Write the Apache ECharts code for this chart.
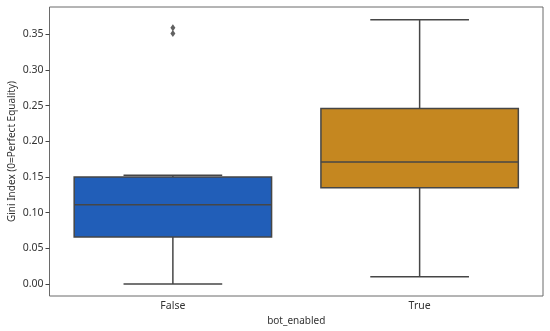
<!DOCTYPE html>
<html>
<head>
<meta charset="utf-8">
<script src="https://cdn.jsdelivr.net/npm/echarts@6/dist/echarts.min.js"></script>
<style>
html,body{margin:0;padding:0;background:#fff}
#chart{width:550px;height:331px}
</style>
</head>
<body>
<div id="chart"></div>
<script>
// categories and box stats: [min, q1, median, q3, max]
const categories = ["False", "True"];
const boxStats = [
  [0.000, 0.066, 0.111, 0.150, 0.1525],
  [0.010, 0.135, 0.171, 0.246, 0.370]
];
const outliers = [[0, 0.351], [0, 0.359]];
const yTicks = [0, 0.05, 0.10, 0.15, 0.20, 0.25, 0.30, 0.35];
const boxColors = ["#215EB8", "#C58720"];

const chart = echarts.init(document.getElementById("chart"));
const edge = "#464646";
const font = "'Noto Sans', sans-serif";

function renderBox(params, api){
  const i = api.value(0);
  const band = api.size([1, 0])[0];
  const x = api.coord([i, 0])[0];
  const y = k => api.coord([i, api.value(k)])[1];
  const half = band * 0.4, cap = band * 0.2;
  const ln = (x1, y1, x2, y2) => ({type: "line", shape: {x1, y1, x2, y2},
    style: {stroke: edge, lineWidth: 1.5}});
  return {type: "group", children: [
    ln(x, y(1), x, y(2)),
    ln(x, y(4), x, y(5)),
    ln(x - cap, y(1), x + cap, y(1)),
    ln(x - cap, y(5), x + cap, y(5)),
    {type: "rect", shape: {x: x - half, y: y(4), width: half * 2, height: y(2) - y(4)},
      style: {fill: boxColors[i], stroke: edge, lineWidth: 1.5}},
    ln(x - half, y(3), x + half, y(3))
  ]};
}

chart.setOption({
  animation: false,
  grid: {left: 49.5, right: 7, top: 7, bottom: 35, show: true, containLabel: false,
    outerBoundsMode: "none",
    borderColor: "#6a6a6a", borderWidth: 1, backgroundColor: "transparent"},
  xAxis: {
    type: "category", data: categories, boundaryGap: true,
    name: "bot_enabled", nameLocation: "middle", nameGap: 20, nameMoveOverlap: false,
    nameTextStyle: {fontFamily: font, fontSize: 10, color: "#333"},
    axisLine: {show: false},
    axisTick: {alignWithLabel: true, length: 4, lineStyle: {color: "#444"}},
    axisLabel: {fontFamily: font, fontSize: 10.5, color: "#333", margin: 5},
    splitLine: {show: false}
  },
  yAxis: {
    type: "value", min: -0.0168, max: 0.388,
    name: "Gini Index (0=Perfect Equality)", nameLocation: "middle", nameGap: 32,
    nameMoveOverlap: false,
    nameTextStyle: {fontFamily: font, fontSize: 10, color: "#333"},
    axisLine: {show: false},
    axisTick: {show: true, length: 4, lineStyle: {color: "#444"}, customValues: yTicks},
    axisLabel: {fontFamily: font, fontSize: 10.5, color: "#333", margin: 6,
      customValues: yTicks, formatter: v => v.toFixed(2)},
    splitLine: {show: false}
  },
  series: [
    {type: "custom", renderItem: renderBox, encode: {x: 0, y: [1, 2, 3, 4, 5]},
      data: boxStats.map((s, i) => [i, ...s]), z: 2},
    {type: "scatter", data: outliers, symbol: "diamond", symbolSize: [5, 7],
      itemStyle: {color: "#3a3a3a"}, z: 3}
  ]
});
</script>
</body>
</html>
